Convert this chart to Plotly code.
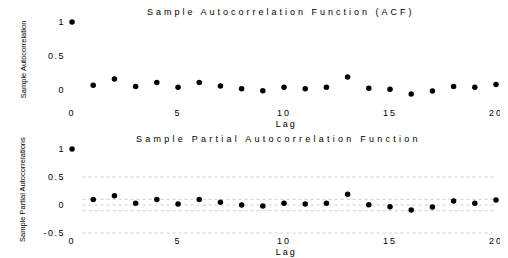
import plotly.graph_objects as go

lags = list(range(21))
acf = [1.0, 0.07, 0.16, 0.05, 0.11, 0.04, 0.11, 0.06, 0.02, -0.01, 0.04,
       0.02, 0.04, 0.19, 0.025, 0.01, -0.06, -0.015, 0.05, 0.04, 0.08]
pacf = [1.0, 0.10, 0.165, 0.03, 0.10, 0.02, 0.10, 0.05, 0.0, -0.02, 0.03,
        0.02, 0.03, 0.19, 0.005, -0.03, -0.09, -0.035, 0.07, 0.03, 0.09]
pacf_guides = [0.5, 0.1, 0.0, -0.1, -0.5]
x_ticks = [0, 5, 10, 15, 20]
acf_yticks = [0, 0.5, 1]
pacf_yticks = [-0.5, 0, 0.5, 1]

title_top = "Sample Autocorrelation Function (ACF)"
title_bot = "Sample Partial Autocorrelation Function"
ylab_top = "Sample Autocorrelation"
ylab_bot = "Sample Partial Autocorrelations"
xlab = "Lag"

FONT = "Liberation Sans, Arial, sans-serif"
W, H = 500, 250  # page body has an 8px margin inside the 508x258 window


def spaced(t, px=3):
    return f'<span style="letter-spacing:{px}px">{t}</span>'


def fmt(v):
    return ("%g" % v)


fig = go.Figure()

# PACF guide lines (faint dotted)
for g in pacf_guides:
    fig.add_trace(go.Scatter(x=[lags[0] + 0.5, lags[-1]], y=[g, g], mode="lines",
                             line=dict(color="#d0d0d0", width=1, dash="dot"),
                             xaxis="x2", yaxis="y2", hoverinfo="skip", showlegend=False))

fig.add_trace(go.Scatter(x=lags, y=acf, mode="markers",
                         marker=dict(color="black", size=5.5, symbol="circle"),
                         xaxis="x", yaxis="y", showlegend=False))
fig.add_trace(go.Scatter(x=lags, y=pacf, mode="markers",
                         marker=dict(color="black", size=5.5, symbol="circle"),
                         xaxis="x2", yaxis="y2", showlegend=False))

tickfont = dict(family=FONT, size=9, color="black")
common_x = dict(range=[-0.28, 20.5], domain=[0.1162, 0.9972], showgrid=False,
                zeroline=False, showline=False, ticks="", automargin=False,
                tickvals=x_ticks, ticktext=[spaced(fmt(v), 2) for v in x_ticks],
                tickfont=tickfont)

fig.update_layout(
    width=W, height=H, margin=dict(l=0, r=0, t=0, b=0, autoexpand=False),
    paper_bgcolor="white", plot_bgcolor="white",
    xaxis=dict(**common_x, anchor="y",
               title=dict(text=spaced(xlab, 2), font=dict(family=FONT, size=9, color="black"), standoff=4),
               ticklabelstandoff=2),
    yaxis=dict(range=[-0.2, 1.1], domain=[0.6176, 0.9712], showgrid=False,
               zeroline=False, showline=False, ticks="", anchor="x", automargin=False,
               tickvals=acf_yticks, ticktext=[spaced(fmt(v), 1.5) for v in acf_yticks],
               tickfont=tickfont, ticklabelstandoff=0,
               title=dict(text=ylab_top, font=dict(family=FONT, size=7.5, color="black"), standoff=20)),
    xaxis2=dict(**common_x, anchor="y2",
                title=dict(text=spaced(xlab, 2), font=dict(family=FONT, size=9, color="black"), standoff=3),
                ticklabelstandoff=-2),
    yaxis2=dict(range=[-0.55, 1.1], domain=[0.0888, 0.4584], showgrid=False,
                zeroline=False, showline=False, ticks="", anchor="x2", automargin=False,
                tickvals=pacf_yticks, ticktext=[spaced(fmt(v), 1.5) for v in pacf_yticks],
                tickfont=tickfont, ticklabelstandoff=0,
                title=dict(text=ylab_bot, font=dict(family=FONT, size=7.5, color="black"), standoff=16)),
    annotations=[
        dict(text=spaced(title_top, 3), x=273 / W, y=1 - 3.5 / H, xref="paper", yref="paper",
             showarrow=False, font=dict(family=FONT, size=9, color="black"),
             xanchor="center", yanchor="middle"),
        dict(text=spaced(title_bot, 3.25), x=270.5 / W, y=1 - 131 / H, xref="paper", yref="paper",
             showarrow=False, font=dict(family=FONT, size=9, color="black"),
             xanchor="center", yanchor="middle"),
    ],
)

fig.write_html("out.html")
